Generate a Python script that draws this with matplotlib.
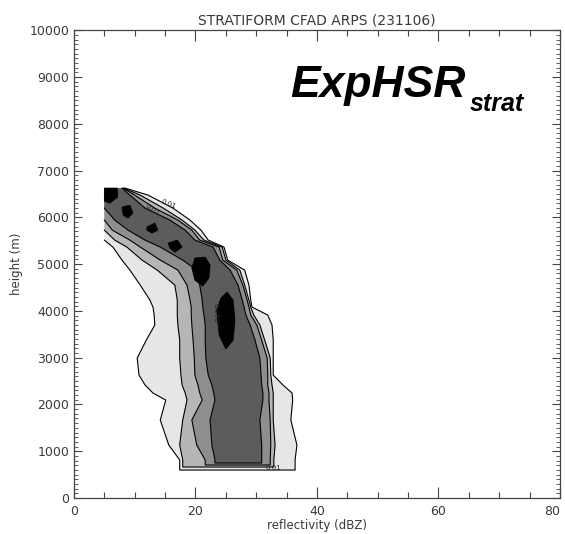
import matplotlib
matplotlib.use("Agg")
import matplotlib.pyplot as plt
import numpy as np

# ---- data (dBZ / metres) ----
# shared height rows for the filled frequency bands
heights = [6625, 6475, 6197, 5941, 5727, 5513, 5364, 5086, 4872, 4552,
           4231, 4082, 3911, 3697, 3376, 2992, 2628, 2415, 2244, 2094,
           1667, 1133, 812]

# band edges, outer (0.01) to inner
left_l1 = [5, 5, 5, 5, 5, 5, 6.4, 7.9, 9.2, 10.9,
           12.5, 13.0, 13.2, 13.3, 11.9, 10.4, 10.7, 11.7, 13.0, 15.1,
           14.2, 15.6, 17.4]
right_l1 = [8.4, 12.2, 16.3, 19.1, 20.9, 22.1, 24.7, 25.3, 28.1, 28.8,
            29.1, 29.3, 31.9, 32.6, 32.8, 32.8, 32.8, 34.4, 35.9, 36.0,
            35.7, 36.7, 36.4]
left_l2 = [5, 5, 5, 5, 5, 6.7, 8.7, 11.2, 13.7, 16.6,
           17.0, 17.0, 17.0, 17.1, 17.4, 17.4, 17.6, 17.8, 18.3, 18.6,
           17.9, 17.4, 17.9]
right_l2 = [8.2, 10.9, 14.7, 17.8, 19.9, 21.4, 24.4, 25.0, 27.3, 28.1,
            28.8, 29.1, 29.6, 30.6, 31.4, 32.3, 32.4, 32.6, 32.8, 32.8,
            32.8, 33.1, 32.9]
left_l3 = [5, 5, 5, 5, 6.3, 9.2, 10.9, 14.2, 17.1, 18.6,
           19.1, 19.3, 19.3, 19.4, 19.6, 19.8, 19.9, 20.4, 20.7, 21.1,
           19.4, 20.2, 21.6]
right_l3 = [8.1, 10.0, 13.3, 17.1, 19.4, 20.7, 23.9, 24.5, 26.8, 27.8,
            28.5, 28.8, 29.1, 30.1, 30.9, 31.8, 31.9, 31.9, 32.1, 32.1,
            32.3, 32.4, 32.3]
left_l4 = [5, 5, 5, 6.7, 8.9, 11.7, 14.2, 17.9, 20.2, 20.7,
           21.1, 21.2, 21.4, 21.6, 21.6, 21.7, 22.1, 22.7, 23.0, 23.2,
           22.4, 22.7, 23.2]
right_l4 = [7.9, 9.2, 11.7, 15.8, 18.3, 19.9, 22.9, 24.0, 25.7, 27.0,
            27.7, 28.0, 28.3, 29.0, 29.8, 30.6, 30.8, 30.9, 31.1, 31.1,
            30.6, 30.9, 30.9]
band_bottoms = [598, 662, 705, 748]

# black cores (highest frequency)
core_x = [
    [5, 7.1, 7.2, 5.9, 5],
    [7.9, 9.2, 9.7, 8.9, 8.1],
    [12.0, 13.3, 13.8, 12.8, 12.0],
    [15.5, 17.0, 17.8, 16.6, 15.8],
    [19.9, 21.6, 22.4, 22.2, 21.2, 19.9, 19.4],
    [25.2, 26.2, 26.5, 26.2, 25.0, 23.9, 23.5, 24.2],
]
core_y = [
    [6625, 6625, 6432, 6304, 6347],
    [6219, 6261, 6090, 5984, 6048],
    [5791, 5877, 5727, 5663, 5727],
    [5449, 5513, 5364, 5257, 5342],
    [5129, 5150, 4979, 4701, 4530, 4659, 4915],
    [4402, 4231, 3804, 3376, 3184, 3483, 4018, 4274],
]

# contour labels
clab_text = ["0.01", "0.02", "0.050", "0.01"]
clab_x = [15.5, 12.8, 23.3, 32.8]
clab_y = [6280, 6150, 3950, 640]
clab_rot = [-22, -35, -90, 0]

band_colors = ["#e6e6e6", "#b6b6b6", "#8e8e8e", "#5c5c5c"]

plt.rcParams['font.family'] = ['DejaVu Sans']
TXT = "#3a3a3a"

fig = plt.figure(figsize=(5.65, 5.34), dpi=100)
ax = fig.add_axes([0.131, 0.0674, 0.860, 0.876])

bands = [(left_l1, right_l1), (left_l2, right_l2),
         (left_l3, right_l3), (left_l4, right_l4)]
for (lx, rx), bot, col in zip(bands, band_bottoms, band_colors):
    ys = heights + [bot, bot] + heights[::-1]
    xs = lx + [lx[-1], rx[-1]] + rx[::-1]
    ax.fill(xs, ys, facecolor=col, edgecolor='none', zorder=2)
    # outline without the clipped top and left edges
    k = max(0, next(i for i, v in enumerate(lx) if v > 5) - 1)
    ox = lx[k:] + [lx[-1], rx[-1]] + rx[::-1]
    oy = heights[k:] + [bot, bot] + heights[::-1]
    ax.plot(ox, oy, color='black', lw=0.8, zorder=3)

for cx, cy in zip(core_x, core_y):
    ax.fill(cx, cy, facecolor='black', edgecolor='black', lw=0.6, zorder=4)

for t, x, y, r in zip(clab_text, clab_x, clab_y, clab_rot):
    ax.text(x, y, t, fontsize=5, rotation=r, ha='center', va='center',
            color='#222222', zorder=5)

ax.set_xlim(0, 80)
ax.set_ylim(0, 10000)
ax.set_xticks([0, 20, 40, 60, 80])
ax.set_xticks(np.arange(0, 81, 5), minor=True)
ax.set_yticks(np.arange(0, 10001, 1000))
ax.set_yticks(np.arange(0, 10001, 100), minor=True)
ax.tick_params(which='both', direction='in', top=True, right=True,
               colors='#444444', labelcolor=TXT, labelsize=9, width=0.8)
ax.tick_params(axis='x', which='major', length=8, pad=5)
ax.tick_params(axis='x', which='minor', length=4)
ax.tick_params(axis='y', which='major', length=6)
ax.tick_params(axis='y', which='minor', length=3, width=0.6)
for s in ax.spines.values():
    s.set_color('#444444')
    s.set_linewidth(0.9)
# the last x label sits on the figure edge; keep it inside
ax.get_xticklabels()[-1].set_horizontalalignment('right')

ax.set_title("STRATIFORM CFAD ARPS (231106)", fontsize=10, color=TXT, pad=4)
ax.set_xlabel("reflectivity (dBZ)", fontsize=8.5, color=TXT, labelpad=1)
ax.set_ylabel("height (m)", fontsize=8.5, color=TXT)
ax.yaxis.set_label_coords(-0.105, 0.5)

fig.text(0.513, 0.818, "ExpHSR", fontsize=32, fontweight='bold',
         fontstyle='italic', family='Liberation Sans', va='baseline')
fig.text(0.831, 0.792, "strat", fontsize=18, fontweight='bold',
         fontstyle='italic', family='Liberation Sans', va='baseline')

fig.savefig("out.png", dpi=100)
